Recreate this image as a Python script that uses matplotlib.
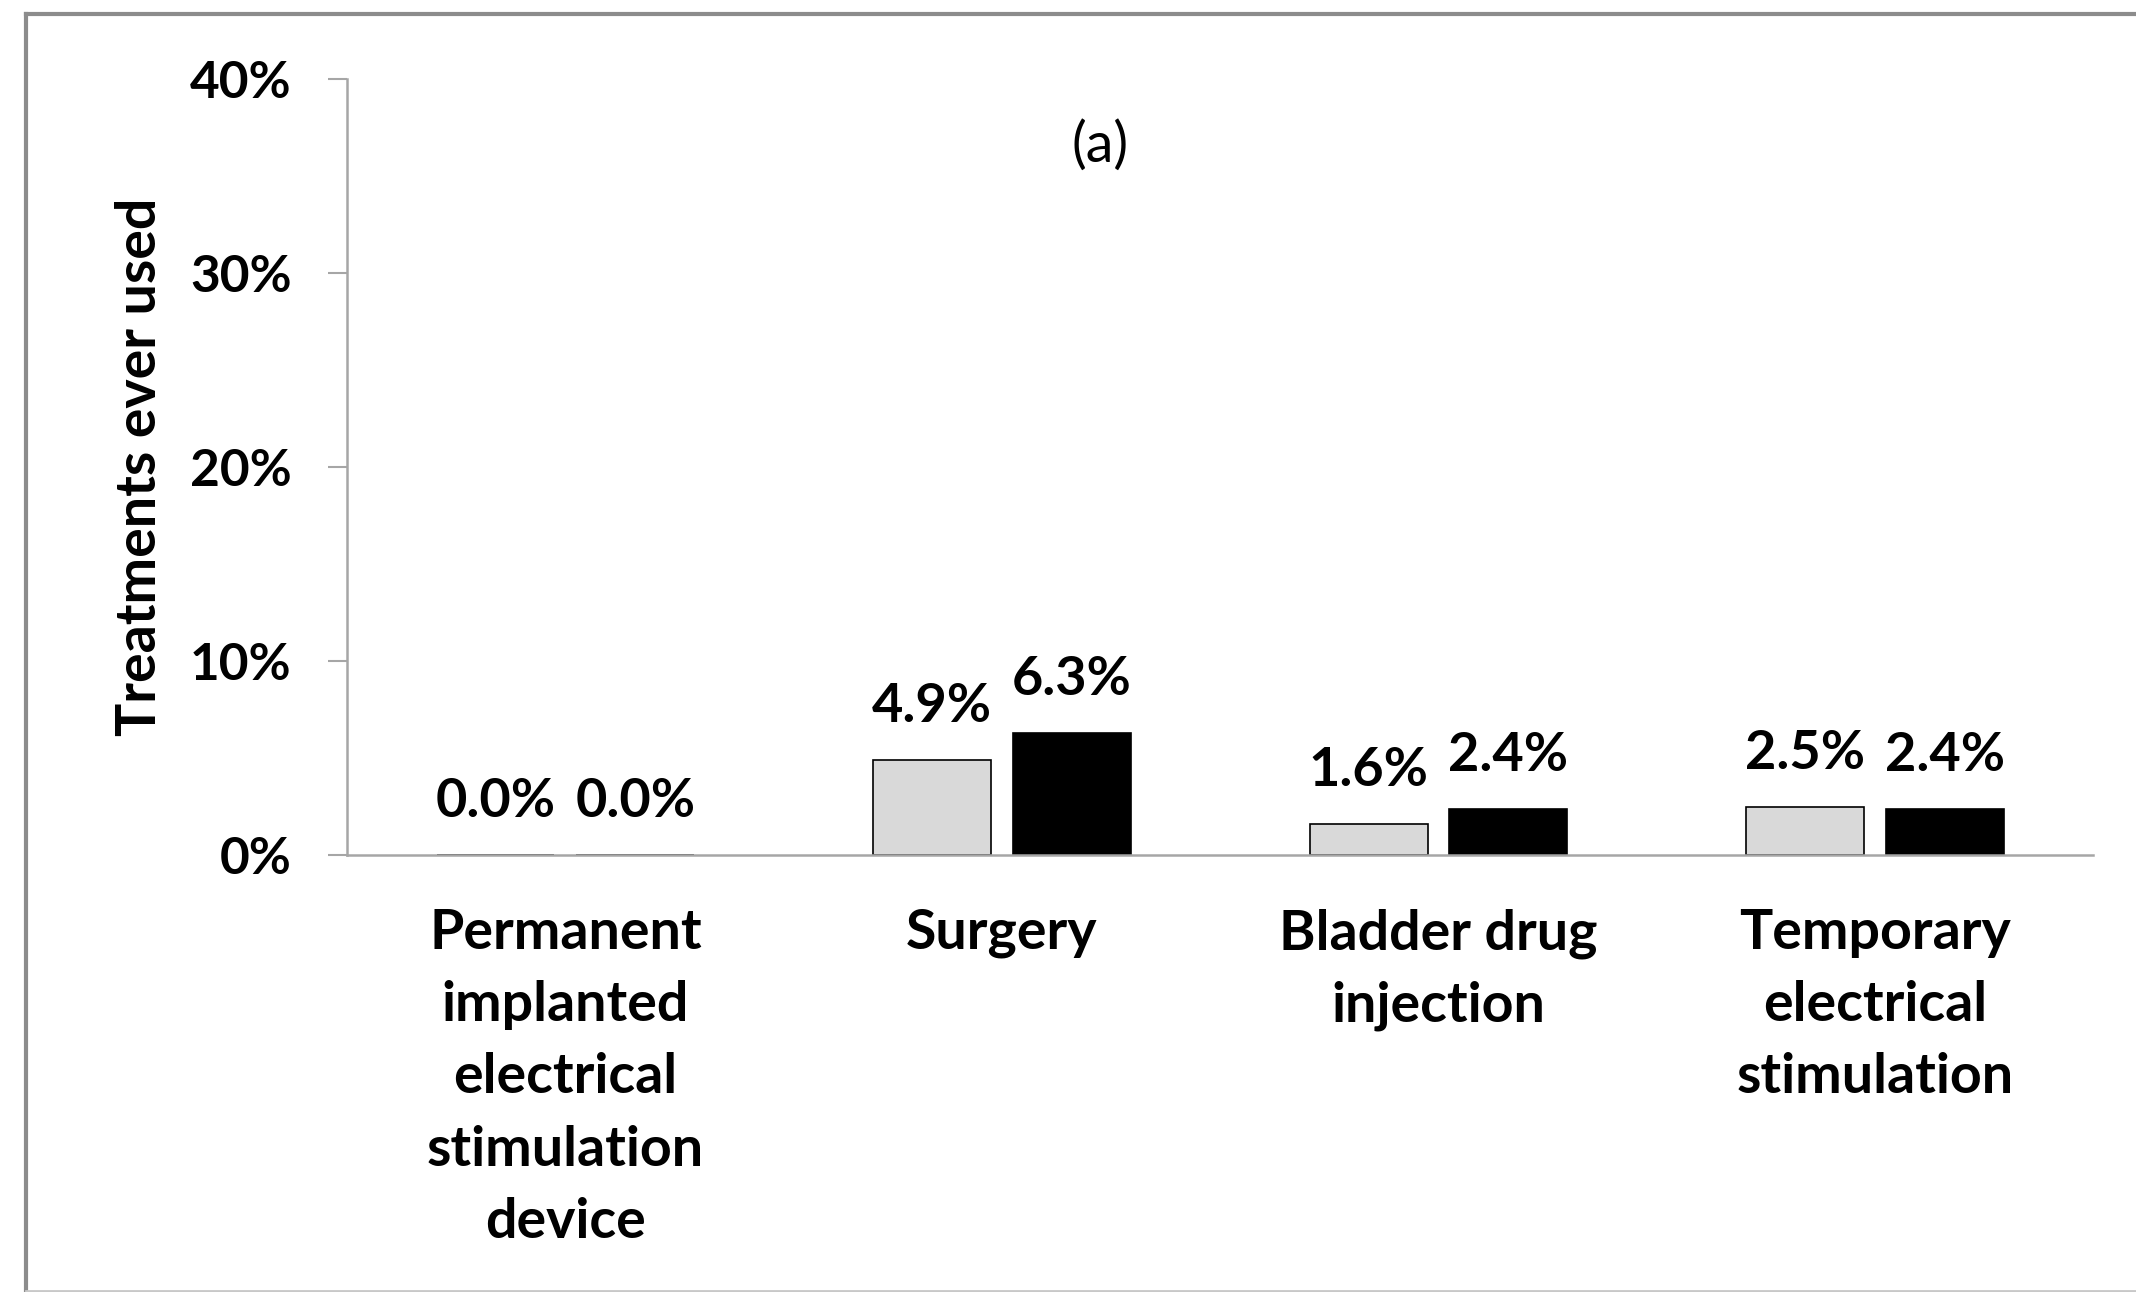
import numpy as np
import matplotlib
matplotlib.use("Agg")
import matplotlib.pyplot as plt
from matplotlib.ticker import PercentFormatter

plt.rcParams['font.family'] = ['Lato', 'DejaVu Sans']

categories = ['Permanent\nimplanted\nelectrical\nstimulation\ndevice',
              'Surgery',
              'Bladder drug\ninjection',
              'Temporary\nelectrical\nstimulation']
group_a = [0.0, 4.9, 1.6, 2.5]
group_b = [0.0, 6.3, 2.4, 2.4]
yticks = [0, 10, 20, 30, 40]

fig = plt.figure(figsize=(21.36, 12.92), dpi=100)
ax = fig.add_axes([0.1625, 0.338, 0.8175, 0.6011])

x = np.arange(len(categories))
w = 0.27
off = 0.16
bars_a = ax.bar(x - off, group_a, w, color='#d9d9d9', edgecolor='black', linewidth=1.2)
bars_b = ax.bar(x + off, group_b, w, color='black', edgecolor='black', linewidth=1.2)

for bars, vals in ((bars_a, group_a), (bars_b, group_b)):
    for b, v in zip(bars, vals):
        ax.annotate(f'{v:.1f}%', (b.get_x() + b.get_width() / 2, v),
                    xytext=(0, 21), textcoords='offset points',
                    ha='center', va='bottom', fontsize=39, fontweight='bold')

ax.set_xlim(-0.5, 3.5)
ax.set_ylim(0, 40)
ax.set_yticks(yticks)
ax.yaxis.set_major_formatter(PercentFormatter(decimals=0))
ax.set_xticks(x)
ax.set_xticklabels(categories, fontsize=40, fontweight='bold', linespacing=1.54)
ax.tick_params(axis='x', length=0, pad=38)
ax.tick_params(axis='y', length=14, width=1.5, color='#a6a6a6', pad=26,
               labelsize=37)
for lab in ax.get_yticklabels():
    lab.set_fontweight('bold')

for s in ['top', 'right']:
    ax.spines[s].set_visible(False)
for s in ['left', 'bottom']:
    ax.spines[s].set_color('#a6a6a6')
    ax.spines[s].set_linewidth(1.8)

ax.set_ylabel('Treatments ever used', fontsize=40, fontweight='bold', labelpad=18)
ax.text(0.515, 0.887, '(a)', transform=fig.transFigure, fontsize=40,
        ha='center', va='center')

# outer frame (open on the right)
fig.add_artist(plt.Line2D([26 / 2136, 1.0], [1 - 14 / 1292] * 2,
                          transform=fig.transFigure, color='#8c8c8c', lw=3))
fig.add_artist(plt.Line2D([26 / 2136] * 2, [1 - 14 / 1292, 0.0],
                          transform=fig.transFigure, color='#8c8c8c', lw=3))
fig.add_artist(plt.Line2D([26 / 2136, 1.0], [1.5 / 1292] * 2,
                          transform=fig.transFigure, color='#c8c8c8', lw=2))

fig.savefig('out.png', dpi=100)
